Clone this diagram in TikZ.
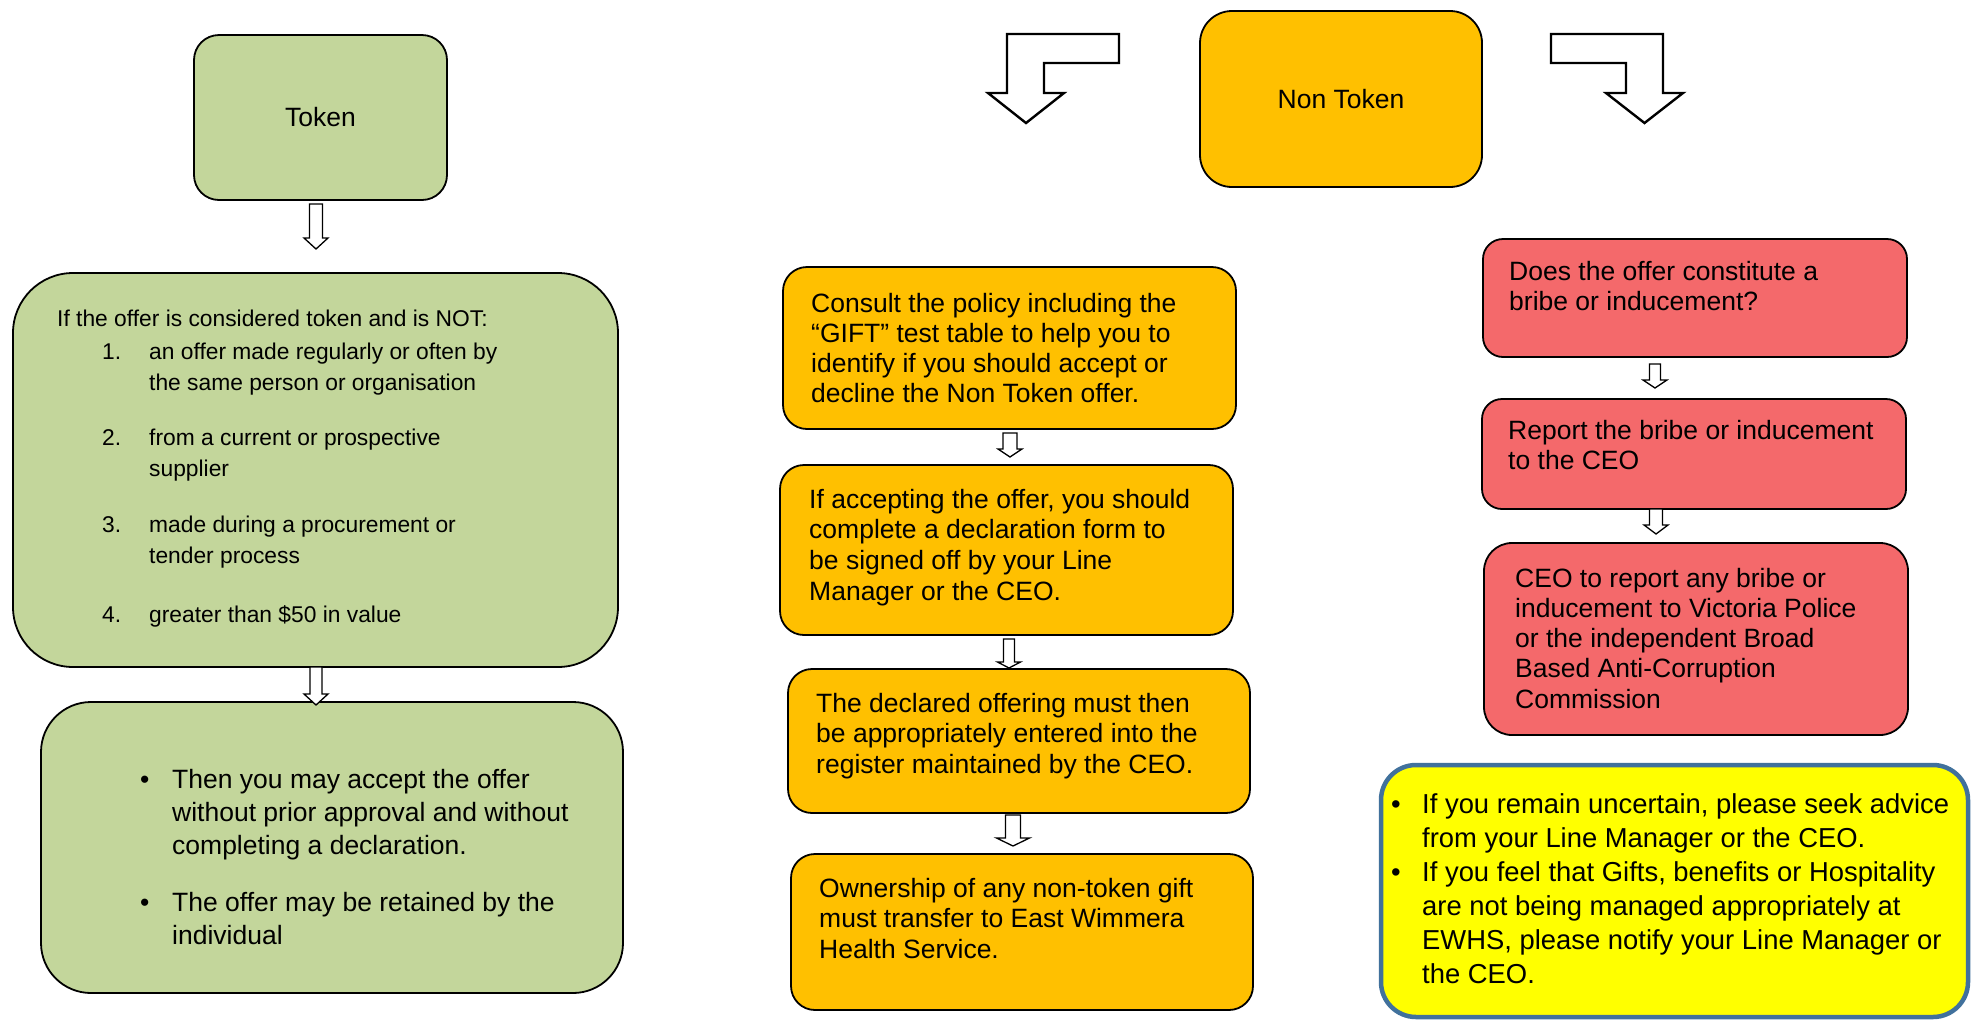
\documentclass[tikz,border=0pt]{standalone}
\usepackage{fontspec}
\setmainfont{Liberation Sans}
\definecolor{tokgreen}{HTML}{C3D69B}
\definecolor{ntorange}{HTML}{FFC000}
\definecolor{bribered}{HTML}{F4696B}
\definecolor{noteyellow}{HTML}{FFFF00}
\definecolor{noteblue}{HTML}{41719C}
\tikzset{
  box/.style={draw=black, line width=1.8pt, inner sep=0pt, outer sep=0pt},
  txt/.style={anchor=base west, inner sep=0pt, align=left, text width=620pt},
  blockarrow/.style={draw=black, fill=white, line width=1.3pt, line join=miter},
  bentarrow/.style={draw=black, fill=white, line width=2.4pt, line join=miter},
}
\newcommand\downblock[6]{% cx, top, shoulder, tip, half stem, half head
  \draw[blockarrow] ({#1-#5},{#2}) -- ({#1+#5},{#2}) -- ({#1+#5},{#3}) -- ({#1+#6},{#3})
     -- ({#1},{#4}) -- ({#1-#6},{#3}) -- ({#1-#5},{#3}) -- cycle;}
\newcommand\tfont[2]{\fontsize{#1}{#2}\selectfont\spaceskip=0pt\xspaceskip=0pt\relax}
\begin{document}
\begin{tikzpicture}[x=1pt,y=-1pt]
\useasboundingbox (0,0) rectangle (1971,1021);
\fill[white] (0,0) rectangle (1971,1021);

% ---------- left column ----------
\node[box, fill=tokgreen, rounded corners=25pt, minimum width=253pt, minimum height=165pt,
  font=\tfont{26.5pt}{30pt}] (tok) at (320.5,117.5) {Token};
\node[box, fill=tokgreen, rounded corners=60pt, minimum width=605pt, minimum height=394pt]
  (gbig) at (315.5,470) {};
\node[box, fill=tokgreen, rounded corners=50pt, minimum width=582pt, minimum height=291pt]
  (gsmall) at (332,847.5) {};

\node[txt] (gbigtxt) at (57,326) {\tfont{22.8pt}{31pt}%
If the offer is considered token and is NOT:\\[2pt]
\hspace*{45pt}\makebox[47pt][l]{1.}an offer made regularly or often by\\
\hspace*{92pt}the same person or organisation\\[24.5pt]
\hspace*{45pt}\makebox[47pt][l]{2.}from a current or prospective\\
\hspace*{92pt}supplier\\[25pt]
\hspace*{45pt}\makebox[47pt][l]{3.}made during a procurement or\\
\hspace*{92pt}tender process\\[28pt]
\hspace*{45pt}\makebox[47pt][l]{4.}greater than \$50 in value\par};

\node[txt] (gsmalltxt) at (140,788) {\tfont{26.5pt}{33.3pt}%
\makebox[32pt][l]{\textbullet}Then you may accept the offer\\
\hspace*{32pt}without prior approval and without\\
\hspace*{32pt}completing a declaration.\\[23.3pt]
\makebox[32pt][l]{\textbullet}The offer may be retained by the\\
\hspace*{32pt}individual\par};

\downblock{316}{204}{238}{249}{6.5}{12}
\downblock{316}{667}{694}{705}{6}{12}

% ---------- middle column ----------
\node[box, fill=ntorange, rounded corners=32pt, minimum width=282pt, minimum height=176pt,
  font=\tfont{26.5pt}{30pt}] (nontok) at (1341,99) {Non Token};

\draw[bentarrow] (1119,34) -- (1007,34) -- (1007,93) -- (988,93) -- (1026,123)
  -- (1064,93) -- (1044,93) -- (1044,63) -- (1119,63) -- cycle;
\draw[bentarrow] (1551,34) -- (1663,34) -- (1663,93) -- (1683,93) -- (1644.5,123)
  -- (1606,93) -- (1626,93) -- (1626,63) -- (1551,63) -- cycle;

\node[box, fill=ntorange, rounded corners=24pt, minimum width=453pt, minimum height=162pt]
  (o1) at (1009.5,348) {};
\node[box, fill=ntorange, rounded corners=24pt, minimum width=453pt, minimum height=170pt]
  (o2) at (1006.5,550) {};
\node[box, fill=ntorange, rounded corners=24pt, minimum width=462pt, minimum height=144pt]
  (o3) at (1019,741) {};
\node[box, fill=ntorange, rounded corners=24pt, minimum width=462pt, minimum height=156pt]
  (o4) at (1022,932) {};

\node[txt] (o1txt) at (811,312) {\tfont{26.5pt}{30pt}%
Consult the policy including the\\
“GIFT” test table to help you to\\
identify if you should accept or\\
decline the Non Token offer.\par};
\node[txt] (o2txt) at (809,508) {\tfont{26.5pt}{30.7pt}%
If accepting the offer, you should\\
complete a declaration form to\\
be signed off by your Line\\
Manager or the CEO.\par};
\node[txt] (o3txt) at (816,712) {\tfont{26.5pt}{30.5pt}%
The declared offering must then\\
be appropriately entered into the\\
register maintained by the CEO.\par};
\node[txt] (o4txt) at (819,897) {\tfont{26.5pt}{30.5pt}%
Ownership of any non-token gift\\
must transfer to East Wimmera\\
Health Service.\par};

\downblock{1010}{433}{449}{457}{7}{12}
\downblock{1009}{639}{662}{668}{5.5}{11.5}
\downblock{1013}{815}{838}{846}{7.5}{16.5}

% ---------- right column ----------
\node[box, fill=bribered, rounded corners=20pt, minimum width=424pt, minimum height=118pt]
  (r1) at (1695,298) {};
\node[box, fill=bribered, rounded corners=20pt, minimum width=424pt, minimum height=110pt]
  (r2) at (1694,454) {};
\node[box, fill=bribered, rounded corners=28pt, minimum width=424pt, minimum height=192pt]
  (r3) at (1696,639) {};

\node[txt] (r1txt) at (1509,280) {\tfont{26.5pt}{30pt}%
Does the offer constitute a\\
bribe or inducement?\par};
\node[txt] (r2txt) at (1508,439) {\tfont{26.5pt}{30pt}%
Report the bribe or inducement\\
to the CEO\par};
\node[txt] (r3txt) at (1515,587) {\tfont{26.5pt}{30.3pt}%
CEO to report any bribe or\\
inducement to Victoria Police\\
or the independent Broad\\
Based Anti-Corruption\\
Commission\par};

\downblock{1655}{364}{380}{388}{5.5}{12}
\downblock{1656}{509}{525}{534}{6.5}{12}

% ---------- note ----------
\node[box, draw=noteblue, line width=4.5pt, fill=noteyellow, rounded corners=35pt,
  minimum width=587pt, minimum height=252pt] (note) at (1674.5,891) {};
\node[txt] (notetxt) at (1391,813) {\tfont{27.4pt}{34pt}%
\makebox[31pt][l]{\textbullet}If you remain uncertain, please seek advice\\
\hspace*{31pt}from your Line Manager or the CEO.\\
\makebox[31pt][l]{\textbullet}If you feel that Gifts, benefits or Hospitality\\
\hspace*{31pt}are not being managed appropriately at\\
\hspace*{31pt}EWHS, please notify your Line Manager or\\
\hspace*{31pt}the CEO.\par};
\end{tikzpicture}
\end{document}
